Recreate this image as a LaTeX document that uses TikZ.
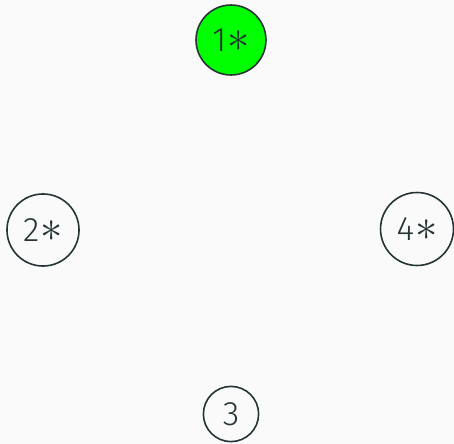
\documentclass[tikz,border=0pt]{standalone}
\usepackage{fontspec}
\setmainfont{Fira Sans}[UprightFont=* Light]
\usepackage{graphicx}
\usepackage{tikz}
\definecolor{ink}{RGB}{38,52,54}
\definecolor{paper}{RGB}{250,250,250}
\definecolor{hit}{RGB}{0,255,0}
\tikzset{
  state/.style={circle,draw=ink,line width=1.6bp,inner sep=9.5bp,
    text=ink,font=\fontsize{34}{36}\selectfont},
  start/.style={state,fill=hit},
}
\newcommand{\st}{\kern1bp\scalebox{1.8}{$\ast$}}

\begin{document}
\begin{tikzpicture}[x=1bp,y=-1bp]
  \fill[paper] (0,0) rectangle (454,444);
  \useasboundingbox (0,0) rectangle (454,444);
  % four states round the square
  \node[start] (s1) at (231,40) {1\st};
  \node[state] (s2) at (43,230) {2\st};
  \node[state] (s4) at (417,229) {4\st};
  \node[state] (s3) at (231,414) {3};
\end{tikzpicture}
\end{document}
